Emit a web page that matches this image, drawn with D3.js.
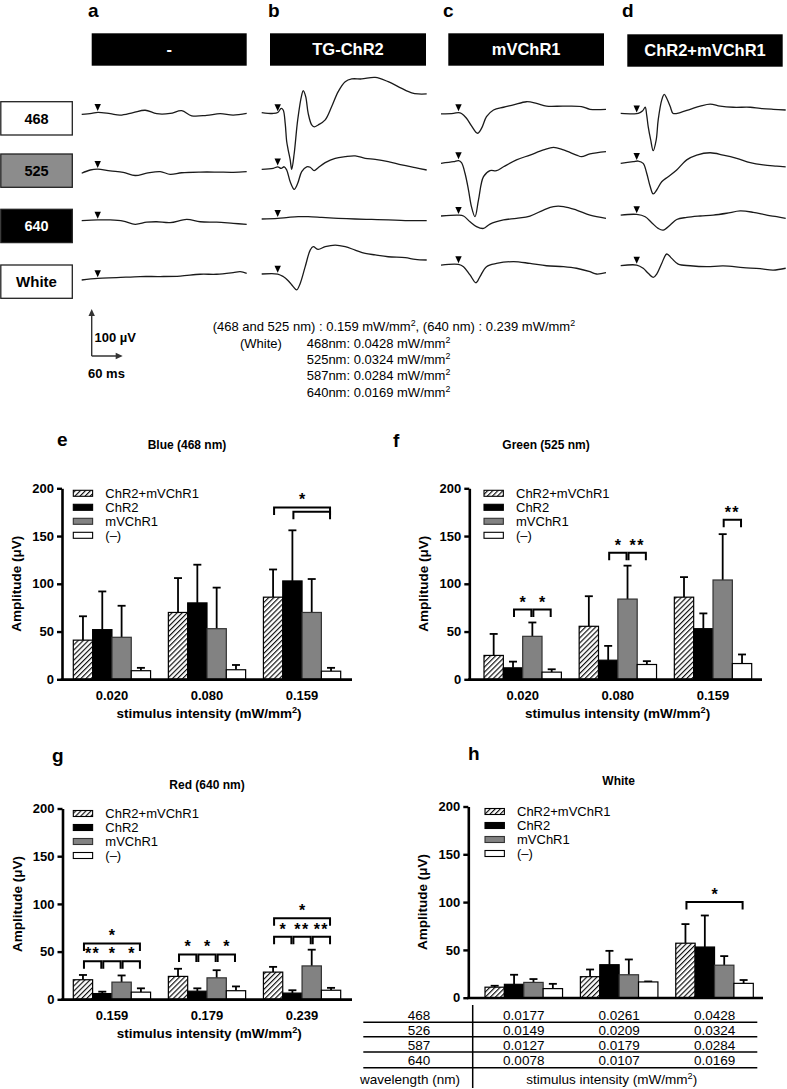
<!DOCTYPE html>
<html><head><meta charset="utf-8">
<script src="https://cdn.jsdelivr.net/npm/d3@7"></script>
<style>body{margin:0;background:#fff} svg{font-family:"Liberation Sans",Arial,sans-serif}</style>
</head><body><svg id="c" width="787" height="1089"></svg>
<script>
// ---------------- DATA ----------------
const panelLetters = ["a","b","c","d"];
const panelTitles = ["-","TG-ChR2","mVChR1","ChR2+mVChR1"];
const rowLabels = ["468","525","640","White"];
const stimMs = [32,32,35,32];

// traces: [time ms, amplitude µV] (read with the 100 µV / 60 ms scale bar)
const traceA468 = [[0,-3],[20,-1],[32,1.5],[57,-1.5],[77,-4.5],[103,1],[127,6],[150,-1.5],[177,-1],[200,5],[220,-6],[250,-5],[277,-1.5],[303,-4.5],[330,-1]];
const traceA525 = [[0,-7],[17,0],[32,2],[57,-2],[83,-5],[107,-12],[130,-7],[157,-3.5],[177,-9.5],[200,-6],[237,-4.5],[270,-4.5],[303,-5],[330,-3.5]];
const traceA640 = [[0,-3.5],[32,-2],[57,-2],[83,-4.5],[107,-11.5],[130,-7],[150,-6],[177,-8],[210,-1],[237,-6],[270,-7],[303,-9.5],[330,-11.5]];
const traceAWhite = [[0,-6.5],[32,-3],[70,-1.5],[117,1],[157,1],[197,2],[237,6],[270,6],[303,9.5],[317,11.5],[330,8]];

const traceB468 = [[0,1],[23,-1],[32,1],[39,10],[43,6.5],[47,-22.5],[50,-62],[53,-80.5],[57,-102],[60,-122.5],[65,-88],[72,-15],[80,39],[83,48.5],[88,35.5],[93,-1],[100,-26],[105,-30],[113,-26],[127,-15],[140,14],[153,46.5],[167,68],[180,74],[200,74],[227,77.5],[253,68],[280,53.5],[300,44],[313,41.5],[330,41.5]];
const traceB525 = [[0,1.5],[23,3.5],[32,7],[39,3.5],[45,7],[50,0],[57,-25.5],[65,-42],[72,-29],[80,-3.5],[90,7],[97,6],[105,-1.5],[113,5],[127,16],[147,25.5],[167,29],[187,30.5],[207,25.5],[227,23],[253,18],[280,11],[307,5],[330,0]];
const traceB640 = [[0,0],[32,1.5],[53,3.5],[73,5],[93,5],[120,3.5],[153,1.5],[187,0],[220,-1],[253,-2],[287,-3.5],[330,-3.5]];
const traceBWhite = [[0,6.5],[32,6.5],[43,1],[53,-8],[63,-21],[70,-28],[77,-14],[87,22.5],[97,58.5],[103,66],[113,60],[127,66],[147,69.5],[167,66],[187,58.5],[207,51.5],[227,48],[253,44],[287,42],[307,38.5],[330,37]];

const traceC468 = [[0,-2],[25,-1],[35,1],[41,-1],[51,-11.5],[61,-28],[73,-44],[81,-33.5],[91,-8],[105,6.5],[125,12.5],[145,17.5],[171,24.5],[191,21],[211,15],[245,15],[281,14],[298,8],[330,8]];
const traceC525 = [[0,14.5],[25,18],[35,20.5],[41,16],[48,-7],[55,-43.5],[61,-80],[68,-101.5],[75,-65],[85,-14.5],[98,-1.5],[111,-1.5],[125,7],[151,22],[178,32.5],[205,43.5],[225,49],[245,43.5],[271,32.5],[281,29],[298,35],[330,40]];
const traceC640 = [[0,6.5],[35,8.5],[45,6.5],[58,-6],[71,-16.5],[85,-20.5],[98,-11],[125,-2],[151,1.5],[178,6.5],[205,19.5],[225,27],[245,27],[271,19.5],[298,8.5],[330,1.5]];
const traceCWhite = [[0,26],[35,27.5],[45,22.5],[58,4.5],[70,-12.5],[78,1],[91,22.5],[111,29.5],[145,33.5],[178,29.5],[211,24.5],[245,22.5],[271,19],[298,11.5],[311,6.5],[330,9.5]];

const traceD468 = [[0,-1],[25,-2],[35,-1],[44,5],[49,12.5],[52,-4.5],[55,-29.5],[60,-58.5],[65,-82],[71,-58.5],[75,-15],[82,28],[87,40.5],[92,32],[99,14],[105,-1],[119,1],[139,8],[159,15],[179,19.5],[199,15],[225,12.5],[259,12.5],[279,10],[305,8],[330,6.5]];
const traceD525 = [[0,14.5],[25,18],[35,19.5],[45,14.5],[52,-7],[59,-36],[65,-52],[72,-43.5],[82,-25.5],[95,-14.5],[112,0],[132,22],[152,32.5],[179,37.5],[205,32.5],[232,25.5],[259,16],[285,11],[312,8.5],[330,7]];
const traceD640 = [[0,8.5],[32,10],[49,5],[62,-8],[75,-20.5],[85,-24],[99,-13],[112,-1],[132,3.5],[159,6.5],[185,8.5],[212,12.5],[239,17.5],[265,14.5],[292,8.5],[312,5],[330,1.5]];
const traceDWhite = [[0,24.5],[32,26],[45,19],[55,8],[65,-1],[72,6.5],[82,29.5],[92,50],[102,40.5],[115,28],[139,24.5],[172,22.5],[205,24],[245,20.5],[279,18],[305,15],[330,19]];

const scaleBarUV = 100;
const scaleBarMs = 60;

const infoLine1 = [["(468 and 525 nm) : 0.159 mW/mm",false],["2",true],[", (640 nm) : 0.239 mW/mm",false],["2",true]];
const whiteWavelengths = ["468nm","525nm","587nm","640nm"];
const whiteIntensities = ["0.0428","0.0324","0.0284","0.0169"];

const seriesNames = ["ChR2+mVChR1","ChR2","mVChR1","(\u2013)"];

const blueGroups = ["0.020","0.080","0.159"];
const blueMean = [[41,52,44,9],[70,80,53,10],[86,103,70,8.5]];
const blueSD   = [[25,40,33,3],[36,40,43,5],[29,53,35,3.5]];
const blueSig  = [[2,0,3,180,"*"],[2,1,3,175.5,""]];

const greenGroups = ["0.020","0.080","0.159"];
const greenMean = [[25,12,45,7.5],[55.5,20,84,15.5],[86,53,104,16.5]];
const greenSD   = [[22.5,6.5,14.5,3],[31.5,15,35,3.5],[21,16,48,9.5]];
const greenSig  = [[0,1,2,73,"*"],[0,2,3,73,"*"],[1,1,2,132.5,"*"],[1,2,3,132.5,"**"],[2,2,3,167,"**"]];

const redGroups = ["0.159","0.179","0.239"];
const redMean = [[20.5,6,18,7.5],[24,8.5,22.5,9],[28.5,6.5,35,9.5]];
const redSD   = [[5,2,7,4],[8,3,8,4.5],[5.5,3,17,2.5]];
const redSig  = [[0,0,3,58.5,"*"],[0,0,1,40,"**"],[0,1,2,40,"*"],[0,2,3,40,"*"],
                 [1,0,1,47,"*"],[1,1,2,47,"*"],[1,2,3,47,"*"],
                 [2,0,3,85,"*"],[2,0,1,65.5,"*"],[2,1,2,65.5,"**"],[2,2,3,65.5,"**"]];

const whiteGroups = ["low","mid","high"];
const whiteMean = [[11,14,16,9.5],[22,34.5,24,16.5],[57,53,34,15]];
const whiteSD   = [[1.5,10,3.5,5],[7.5,14.5,16,0.5],[20,33,9.5,3.5]];
const whiteSig  = [[2,0,3,100,"*"]];

const yTicks = [0,50,100,150,200];

const tableWavelengths = ["468","526","587","640"];
const tableRows = [["0.0177","0.0261","0.0428"],["0.0149","0.0209","0.0324"],["0.0127","0.0179","0.0284"],["0.0078","0.0107","0.0169"]];

// ---------------- DRAW ----------------
const svg = d3.select("#c");
const defs = svg.append("defs");
const pat = defs.append("pattern").attr("id","hatch").attr("patternUnits","userSpaceOnUse")
  .attr("width",3.6).attr("height",3.6).attr("patternTransform","rotate(45)");
pat.append("rect").attr("width",3.6).attr("height",3.6).attr("fill","#fff");
pat.append("line").attr("x1",0.6).attr("y1",0).attr("x2",0.6).attr("y2",3.6).attr("stroke","#000").attr("stroke-width",1.1);

function txt(parent,x,y,s,size,weight,anchor,fill){
  return parent.append("text").attr("x",x).attr("y",y).text(s)
    .attr("font-size",size).attr("font-weight",weight||"normal")
    .attr("text-anchor",anchor||"start").attr("fill",fill||"#000");
}
function richText(parent,x,y,parts,size,weight,anchor){
  const t = parent.append("text").attr("x",x).attr("y",y).attr("font-size",size)
    .attr("font-weight",weight||"normal").attr("text-anchor",anchor||"start");
  let up=false;
  parts.forEach(([s,sup])=>{
    const ts=t.append("tspan").text(s);
    if(sup&&!up){ts.attr("dy",-5).attr("font-size",size*0.68);up=true;}
    else if(!sup&&up){ts.attr("dy",5);up=false;}
  });
  return t;
}

// ---- top: traces ----
const traceGrid = [
  [traceA468,traceA525,traceA640,traceAWhite],
  [traceB468,traceB525,traceB640,traceBWhite],
  [traceC468,traceC525,traceC640,traceCWhite],
  [traceD468,traceD525,traceD640,traceDWhite]];
const traceX = [81.7,261.7,441,620.7];
const rowBase = [113,170,219,277];
const pxPer100uV = 46;
const headerBoxes = [[91.7,33.3,155],[270,33.3,156],[448.3,33.3,155.7],[627.3,34.3,155.4]];
const letterX = [88,268,443,622];

panelLetters.forEach((L,i)=>txt(svg,letterX[i],17,L,19,"bold"));
headerBoxes.forEach((b,i)=>{
  svg.append("rect").attr("x",b[0]).attr("y",b[1]).attr("width",b[2]).attr("height",32.4).attr("fill","#000");
  txt(svg,b[0]+b[2]/2,b[1]+22,panelTitles[i],16.5,"bold","middle","#fff");
});
const rowBoxY=[101.7,154,209.3,265];
const rowFill=["#fff","#8c8c8c","#000","#fff"];
const rowTextFill=["#000","#000","#fff","#000"];
rowLabels.forEach((l,i)=>{
  svg.append("rect").attr("x",0.8).attr("y",rowBoxY[i]).attr("width",71.5).attr("height",33.3)
    .attr("fill",rowFill[i]).attr("stroke","#222").attr("stroke-width",1.3);
  txt(svg,36.5,rowBoxY[i]+22,l,i===3?15:14.5,"bold","middle",rowTextFill[i]);
});

function interp(tr,t){
  for(let k=1;k<tr.length;k++){ if(tr[k][0]>=t){const a=tr[k-1],b=tr[k];return a[1]+(b[1]-a[1])*(t-a[0])/(b[0]-a[0]);} }
  return tr[tr.length-1][1];
}
traceGrid.forEach((col,p)=>{
  const xs = d3.scaleLinear().domain([0,330]).range([traceX[p],traceX[p]+165]);
  col.forEach((tr,r)=>{
    const ys = d3.scaleLinear().domain([0,100]).range([rowBase[r],rowBase[r]-pxPer100uV]);
    const line = d3.line().x(d=>xs(d[0])).y(d=>ys(d[1])).curve(d3.curveCatmullRom.alpha(0.5));
    svg.append("path").attr("d",line(tr)).attr("fill","none").attr("stroke","#1a1a1a").attr("stroke-width",1.3);
    const mx = xs(stimMs[p]), my = ys(interp(tr,stimMs[p]))-1.2;
    svg.append("path").attr("d",`M${mx-3.2},${my-7}L${mx+3.2},${my-7}L${mx},${my}Z`).attr("fill","#000");
  });
});

// scale bar (same scales as traces)
{
  const sx = d3.scaleLinear().domain([0,330]).range([91.7,91.7+165]);
  const sy = d3.scaleLinear().domain([0,100]).range([356,356-pxPer100uV]);
  const x0=sx(0), y0=sy(0), yT=sy(scaleBarUV), xR=sx(scaleBarMs);
  svg.append("path").attr("d",`M${x0},${y0}V${yT+5}M${x0},${y0}H${xR-5}`).attr("stroke","#333").attr("stroke-width",1.4).attr("fill","none");
  svg.append("path").attr("d",`M${x0-3.2},${yT+6}L${x0+3.2},${yT+6}L${x0},${yT-1}Z`).attr("fill","#333");
  svg.append("path").attr("d",`M${xR-6},${y0-3.2}L${xR-6},${y0+3.2}L${xR+1},${y0}Z`).attr("fill","#333");
  txt(svg,94.5,341.5,scaleBarUV+" \u00b5V",13,"bold");
  txt(svg,88,378,scaleBarMs+" ms",13,"bold");
}
// info text
richText(svg,212.7,331,infoLine1,13);
txt(svg,240,348,"(White)",13);
whiteWavelengths.forEach((w,i)=>{
  richText(svg,306.7,348+i*16.2,[[w+": "+whiteIntensities[i]+" mW/mm",false],["2",true]],13);
});

// ---- bar charts ----
const fills = ["url(#hatch)","#000","#828282","#fff"];
const strokes = ["#000","#000","#333","#000"];

function barChart(o){
  const y = d3.scaleLinear().domain([0,200]).range([o.y0,o.yTop]);
  const gx = d3.scaleBand().domain(o.groups).range([o.gs,o.ge]).paddingInner(0.187);
  const sx = d3.scaleBand().domain(d3.range(seriesNames.length)).range([0,gx.bandwidth()]);
  const g = svg.append("g");
  const bw = sx.bandwidth();
  const cx = (gi,si)=>gx(o.groups[gi])+sx(si)+bw/2;
  // error bars
  o.mean.forEach((row,gi)=>row.forEach((v,si)=>{
    const c=cx(gi,si), top=y(v+o.sd[gi][si]);
    g.append("line").attr("x1",c).attr("x2",c).attr("y1",y(v)).attr("y2",top).attr("stroke","#000").attr("stroke-width",1.8);
    g.append("line").attr("x1",c-4).attr("x2",c+4).attr("y1",top).attr("y2",top).attr("stroke","#000").attr("stroke-width",1.8);
  }));
  // bars
  o.mean.forEach((row,gi)=>row.forEach((v,si)=>{
    g.append("rect").attr("x",gx(o.groups[gi])+sx(si)).attr("y",y(v)).attr("width",bw).attr("height",y(0)-y(v))
      .attr("fill",fills[si]).attr("stroke",strokes[si]).attr("stroke-width",1.2);
  }));
  // axes
  const ya = g.append("g").attr("transform",`translate(${o.x0},0)`)
    .call(d3.axisLeft(y).tickValues(yTicks).tickSize(5).tickSizeOuter(0).tickPadding(3));
  ya.select(".domain").attr("stroke","#000").attr("stroke-width",2.6);
  ya.selectAll(".tick line").attr("stroke","#000").attr("stroke-width",2.4);
  ya.selectAll(".tick text").attr("font-size",13).attr("font-weight","bold").attr("fill","#000").attr("font-family","Liberation Sans, Arial, sans-serif");
  g.append("line").attr("x1",o.x0-1.3).attr("x2",o.x1).attr("y1",o.y0+0.3).attr("y2",o.y0+0.3).attr("stroke","#000").attr("stroke-width",2.6);
  if(o.showXLabels){
    o.groups.forEach(gr=>txt(g,gx(gr)+gx.bandwidth()/2,o.y0+20.5,gr,13,"bold","middle"));
    richText(g,(o.x0+o.x1)/2+2,o.y0+39,[["stimulus intensity (mW/mm",false],["2",true],[")",false]],13.5,"bold","middle");
  }
  g.append("text").attr("transform",`translate(${o.x0-41},${(o.y0+o.yTop)/2}) rotate(-90)`)
    .attr("text-anchor","middle").attr("font-size",13.5).attr("font-weight","bold").text("Amplitude (\u03bcV)");
  // title
  txt(g,o.titleX,o.titleY,o.title,12,"bold","middle");
  // legend
  const lx = gx(o.groups[0]);
  seriesNames.forEach((s,i)=>{
    const cy = o.yTop+5+i*14;
    g.append("rect").attr("x",lx).attr("y",cy-3).attr("width",bw).attr("height",6)
      .attr("fill",fills[i]).attr("stroke",strokes[i]).attr("stroke-width",1.1);
    txt(g,lx+32,cy+4.5,s,13);
  });
  // significance brackets
  o.sig.forEach(([gi,a,b,lvl,lab])=>{
    const yy=y(lvl), x1=cx(gi,a)+1, x2=cx(gi,b)-1;
    g.append("path").attr("d",`M${x1},${yy+7.5}V${yy}H${x2}V${yy+7.5}`).attr("fill","none").attr("stroke","#000").attr("stroke-width",2);
    if(lab) txt(g,(x1+x2)/2,yy-2,lab,16,"bold","middle").attr("letter-spacing",lab.length>1?"1.5":"0");
  });
  return {gx,y};
}

barChart({x0:62,x1:352,yTop:488.3,y0:679.3,gs:73.3,ge:340.7,groups:blueGroups,mean:blueMean,sd:blueSD,sig:blueSig,
  showXLabels:true,title:"Blue (468 nm)",titleX:187,titleY:449});
barChart({x0:469.3,x1:762,yTop:488.3,y0:679.3,gs:484,ge:751.7,groups:greenGroups,mean:greenMean,sd:greenSD,sig:greenSig,
  showXLabels:true,title:"Green (525 nm)",titleX:546,titleY:449});
barChart({x0:62.5,x1:352,yTop:808.5,y0:999.3,gs:73.3,ge:340.7,groups:redGroups,mean:redMean,sd:redSD,sig:redSig,
  showXLabels:true,title:"Red (640 nm)",titleX:207,titleY:789});
const hc = barChart({x0:468.3,x1:763,yTop:806.5,y0:997.7,gs:485,ge:753.3,groups:whiteGroups,mean:whiteMean,sd:whiteSD,sig:whiteSig,
  showXLabels:false,title:"White",titleX:618.7,titleY:785});

txt(svg,57,446,"e",19,"bold");
txt(svg,393,447,"f",19,"bold");
txt(svg,52,762,"g",19,"bold");
txt(svg,468,760,"h",19,"bold");

// table under panel h
const hy=[1022.3,1036.7,1052,1067.7];
hy.forEach(v=>svg.append("line").attr("x1",363.3).attr("x2",757.3).attr("y1",v).attr("y2",v).attr("stroke","#000").attr("stroke-width",1.5));
svg.append("line").attr("x1",472.7).attr("x2",472.7).attr("y1",1005).attr("y2",1088).attr("stroke","#000").attr("stroke-width",1.5);
const rowY=[1020,1035,1050,1065];
tableWavelengths.forEach((w,i)=>{
  txt(svg,419,rowY[i],w,13.5,"normal","middle");
  tableRows[i].forEach((v,j)=>txt(svg,hc.gx(whiteGroups[j])+hc.gx.bandwidth()/2,rowY[i],v,13.5,"normal","middle"));
});
txt(svg,410,1084,"wavelength (nm)",13.5,"normal","middle");
richText(svg,611.7,1084,[["stimulus intensity (mW/mm",false],["2",true],[")",false]],13.5,"normal","middle");
</script></body></html>
